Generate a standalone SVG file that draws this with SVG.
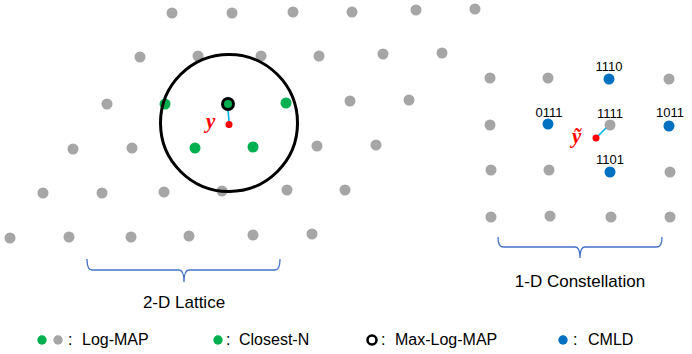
<svg xmlns="http://www.w3.org/2000/svg" width="692" height="354" viewBox="0 0 692 354">
<style>
.g{fill:#A6A6A6}
.gr{fill:#00B050}
.b{fill:#0070C0}
.r{fill:#FF0000}
.ml{fill:#00B050;stroke:#000;stroke-width:3}
.t{font-family:"Liberation Sans",Arial,sans-serif;fill:#000}
.lab{font-size:13px;text-anchor:middle}
.cap{font-size:17px;text-anchor:middle}
.leg{font-size:16px}
.it{font-family:"Liberation Serif","Times New Roman",serif;font-style:italic;font-weight:bold;fill:#FF0000;font-size:21px}
.br{fill:none;stroke:#4472C4;stroke-width:1.3}
.cn{stroke:#00B0F0;stroke-width:1.6}
</style>
<rect width="692" height="354" fill="#fff"/>
<g id="lattice">
<circle class="g" cx="172" cy="13" r="5.5"/><circle class="g" cx="232" cy="13" r="5.5"/><circle class="g" cx="293" cy="12" r="5.5"/><circle class="g" cx="352" cy="12" r="5.5"/><circle class="g" cx="416" cy="10" r="5.5"/><circle class="g" cx="475" cy="9" r="5.5"/>
<circle class="g" cx="140" cy="57" r="5.5"/><circle class="g" cx="198" cy="56" r="5.5"/><circle class="g" cx="261" cy="56" r="5.5"/><circle class="g" cx="319" cy="56" r="5.5"/><circle class="g" cx="383" cy="54" r="5.5"/><circle class="g" cx="442" cy="53" r="5.5"/>
<circle class="g" cx="107" cy="104" r="5.5"/><circle class="gr" cx="165" cy="104" r="5.5"/><circle class="gr" cx="286" cy="103" r="5.5"/><circle class="g" cx="350" cy="101" r="5.5"/><circle class="g" cx="409" cy="100" r="5.5"/>
<circle class="g" cx="73" cy="149" r="5.5"/><circle class="g" cx="132" cy="148" r="5.5"/><circle class="gr" cx="195" cy="148" r="5.5"/><circle class="gr" cx="253" cy="147" r="5.5"/><circle class="g" cx="317" cy="146" r="5.5"/><circle class="g" cx="376" cy="145" r="5.5"/>
<circle class="g" cx="43" cy="193" r="5.5"/><circle class="g" cx="102" cy="193" r="5.5"/><circle class="g" cx="164" cy="192" r="5.5"/><circle class="g" cx="222" cy="191" r="5.5"/><circle class="g" cx="287" cy="190" r="5.5"/><circle class="g" cx="345" cy="190" r="5.5"/>
<circle class="g" cx="10" cy="238" r="5.5"/><circle class="g" cx="69" cy="237" r="5.5"/><circle class="g" cx="131" cy="237" r="5.5"/><circle class="g" cx="189" cy="236" r="5.5"/><circle class="g" cx="253" cy="235" r="5.5"/><circle class="g" cx="312" cy="234" r="5.5"/>
</g>
<g id="sphere"><circle cx="229" cy="123" r="68.5" fill="none" stroke="#000" stroke-width="3"/></g>
<g id="constellation">
<circle class="g" cx="490" cy="78" r="5.5"/><circle class="g" cx="548" cy="78" r="5.5"/><circle class="b" cx="609" cy="79" r="5.5"/><circle class="g" cx="669" cy="79" r="5.5"/>
<circle class="g" cx="490" cy="125" r="5.5"/><circle class="b" cx="548" cy="124" r="5.5"/><circle class="g" cx="610" cy="125" r="5.5"/><circle class="b" cx="669" cy="126" r="5.5"/>
<circle class="g" cx="491" cy="170" r="5.5"/><circle class="g" cx="549" cy="170" r="5.5"/><circle class="b" cx="610" cy="172" r="5.5"/><circle class="g" cx="670" cy="172" r="5.5"/>
<circle class="g" cx="491" cy="217" r="5.5"/><circle class="g" cx="550" cy="216" r="5.5"/><circle class="g" cx="611" cy="217" r="5.5"/><circle class="g" cx="670" cy="217" r="5.5"/>
<text class="t lab" x="609" y="71">1110</text>
<text class="t lab" x="549" y="117">0111</text>
<text class="t lab" x="610" y="118">1111</text>
<text class="t lab" x="670" y="117">1011</text>
<text class="t lab" x="610" y="164">1101</text>
</g>
<g id="connectors">
<line class="cn" x1="228" y1="109" x2="229" y2="122"/>
<line class="cn" x1="597" y1="137" x2="606" y2="128"/>
</g>
<g id="ml-point"><circle class="ml" cx="228" cy="104" r="5.5"/></g>
<g id="y-point">
<circle class="r" cx="229" cy="124.5" r="3.5"/>
<text class="it" x="206" y="128">y</text>
</g>
<g id="ytilde-point">
<circle class="r" cx="596" cy="138" r="3.5"/>
<text class="it" x="572" y="143">ỹ</text>
</g>
<g id="brace-2d">
<path class="br" d="M87,259 Q87,270 92,270 L179,270 Q184,270 184,282 Q184,270 189,270 L275,270 Q280,270 280,259"/>
<text class="t cap" x="184" y="308">2-D Lattice</text>
</g>
<g id="brace-1d">
<path class="br" d="M498,237 Q498,247 503,247 L575,247 Q580,247 580,258 Q580,247 585,247 L657,247 Q662,247 662,237"/>
<text class="t cap" x="580" y="287">1-D Constellation</text>
</g>
<g id="legend">
<circle class="gr" cx="42" cy="340" r="4.7"/><circle class="g" cx="58" cy="340" r="4.7"/>
<text class="t leg" x="68" y="345">:</text><text class="t leg" x="82" y="345">Log-MAP</text>
<circle class="gr" cx="218" cy="340" r="4.7"/>
<text class="t leg" x="226" y="345">:</text><text class="t leg" x="239" y="345">Closest-N</text>
<circle cx="372" cy="340" r="4.5" fill="#fff" stroke="#000" stroke-width="2.6"/>
<text class="t leg" x="381" y="345">:</text><text class="t leg" x="395" y="345">Max-Log-MAP</text>
<circle class="b" cx="563" cy="340" r="4.7"/>
<text class="t leg" x="573" y="345">:</text><text class="t leg" x="588" y="345">CMLD</text>
</g>
</svg>
